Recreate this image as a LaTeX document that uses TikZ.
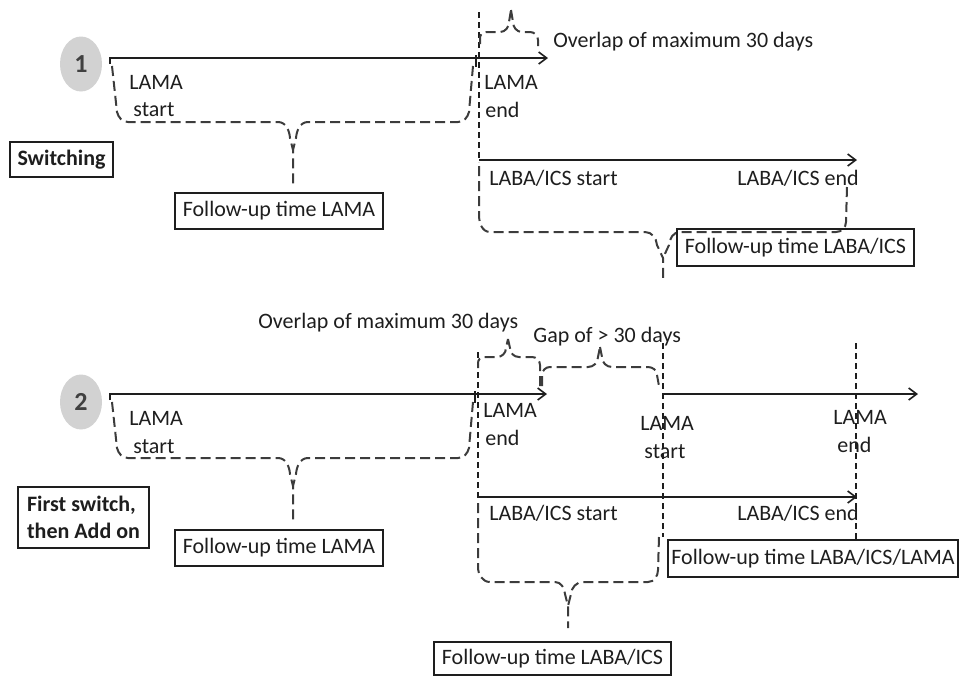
\documentclass[tikz,border=0pt]{standalone}
\usepackage{fontspec}
\setmainfont{Carlito}
\usetikzlibrary{arrows.meta}
\definecolor{ink}{HTML}{1E1E1E}
\definecolor{brc}{HTML}{3C3C3C}
\definecolor{disc}{HTML}{D2D2D2}
\tikzset{
  lbl/.style={font=\fontsize{11}{13}\selectfont, inner sep=0pt, anchor=west, text=ink},
  tag/.style={draw=ink, line width=0.9pt, font=\fontsize{11}{13}\selectfont, inner sep=0pt, text=ink},
  boldtag/.style={tag, font=\bfseries\fontsize{11}{13.5}\selectfont},
  bracepath/.style={draw=brc, line width=1pt, dash pattern=on 5pt off 2.5pt, line join=round},
  marker/.style={draw=ink, line width=0.8pt, dash pattern=on 3pt off 2pt},
  axis/.style={draw=ink, line width=0.8pt, -{Straight Barb[length=4pt,width=6pt]}},
  tick/.style={draw=ink, line width=0.8pt},
  numdisc/.style={ellipse, fill=disc, minimum width=21pt, minimum height=27.5pt, inner sep=0pt,
    font=\bfseries\fontsize{13}{15}\selectfont, text=ink!85},
}
\usetikzlibrary{shapes.geometric}
\begin{document}
\begin{tikzpicture}[x=0.5pt, y=-0.5pt]
\useasboundingbox (0,0) rectangle (960,677);

% ---------------- scenario 1: switching ----------------
\node[numdisc] (n1) at (81,64) {1};
\node[boldtag, minimum width=51.5pt, minimum height=17.5pt] (sw) at (61.5,159.5) {Switching};

% LAMA course
\coordinate (l1s) at (110,58);
\coordinate (l1e) at (548,58);
\draw[axis] (110,64) -- (l1s) -- (l1e);
\draw[tick] (476,55) -- (476,67);
\node[lbl] (l1a) at (129,82) {LAMA};
\node[lbl] (l1b) at (133,110) {start};
\node[lbl] (l1c) at (484,82) {LAMA};
\node[lbl] (l1d) at (485,110) {end};

% LAMA end marker
\draw[marker] (479,12) -- (479,162);

% overlap brace
\draw[bracepath] (480,44) -- (480,38) to[out=90,in=180] (486,32) -- (500,32) to[out=0,in=-90] (509,22) -- (511,10);
\draw[bracepath] (511,10) -- (513,22) to[out=-90,in=180] (522,32) -- (530,32) to[out=0,in=90] (538,40) -- (538,46);
\node[lbl] (ov1) at (553,42) {Overlap of maximum 30 days};

% LABA/ICS course
\coordinate (b1s) at (479,160);
\coordinate (b1e) at (857,160);
\draw[axis] (b1s) -- (b1e);
\node[lbl] (b1a) at (489,178) {LABA/ICS start};
\node[lbl] (b1b) at (737,178) {LABA/ICS end};

% follow-up brace LAMA
\draw[bracepath] (112,66) -- (117,112) to[out=-75,in=180] (128,122) -- (278,122) to[out=0,in=95] (290,138) -- (293,150) -- (293,186);
\draw[bracepath] (473,66) -- (469,112) to[out=-105,in=0] (458,122) -- (308,122) to[out=180,in=85] (296,138) -- (293,150);
\node[tag, minimum width=104pt, minimum height=18pt] (fu1) at (279,211) {Follow-up time LAMA};

% follow-up brace LABA/ICS
\draw[bracepath] (479,166) -- (479,215) to[out=-90,in=180] (490,232) -- (645,232) to[out=0,in=95] (657,245) -- (663,258) -- (663,282);
\draw[bracepath] (847,187) -- (846,222) to[out=-90,in=0] (836,232) -- (680,232) to[out=180,in=85] (669,245) -- (663,258);
\node[tag, minimum width=118.5pt, minimum height=18.5pt] (fu2) at (795.5,247.5) {Follow-up time LABA/ICS};

% ---------------- scenario 2: first switch, then add on ----------------
\node[numdisc] (n2) at (81,402) {2};
\node[boldtag, minimum width=65.5pt, minimum height=30.5pt, align=left] (fs) at (83.5,517.5) {First switch,\\then Add on};

% first LAMA course
\coordinate (l2s) at (110,394);
\coordinate (l2e) at (547,394);
\draw[axis] (110,400) -- (l2s) -- (l2e);
\draw[tick] (475,391) -- (475,403);
\node[lbl] (l2a) at (129,418) {LAMA};
\node[lbl] (l2b) at (133,447) {start};
\node[lbl] (l2c) at (483,410) {LAMA};
\node[lbl] (l2d) at (485,438) {end};

% second LAMA course
\coordinate (l3s) at (663,394);
\coordinate (l3e) at (918,394);
\draw[axis] (l3s) -- (l3e);
\node[lbl] (l3a) at (640,423) {LAMA};
\node[lbl] (l3b) at (644,452) {start};
\node[lbl] (l3c) at (833,417) {LAMA};
\node[lbl] (l3d) at (837,445) {end};

% markers
\draw[marker] (478,352) -- (478,500);
\draw[marker] (663,343) -- (663,537);
\draw[marker] (856,343) -- (856,542);

% overlap brace
\draw[bracepath] (478,368) -- (478,363) to[out=90,in=180] (484,357) -- (497,357) to[out=0,in=-90] (506,348) -- (508,339);
\draw[bracepath] (508,339) -- (510,348) to[out=-90,in=180] (519,357) -- (532,357) to[out=0,in=90] (540,365) -- (540,386);
\node[lbl] (ov2) at (258,323) {Overlap of maximum 30 days};

% gap brace
\draw[bracepath] (542,386) -- (542,375) to[out=90,in=180] (550,367) -- (588,367) to[out=0,in=-90] (598,357) -- (600,347);
\draw[bracepath] (600,347) -- (602,357) to[out=-90,in=180] (612,367) -- (648,367) to[out=0,in=90] (657,375) -- (659,386);
\node[lbl] (gap) at (533,337) {Gap of > 30 days};

% LABA/ICS course
\coordinate (b2s) at (478,497);
\coordinate (b2e) at (857,497);
\draw[axis] (b2s) -- (b2e);
\node[lbl] (b2a) at (489,513) {LABA/ICS start};
\node[lbl] (b2b) at (737,513) {LABA/ICS end};

% follow-up brace LAMA
\draw[bracepath] (112,402) -- (117,448) to[out=-75,in=180] (128,458) -- (278,458) to[out=0,in=95] (290,474) -- (293,486) -- (293,523);
\draw[bracepath] (473,402) -- (469,448) to[out=-105,in=0] (458,458) -- (308,458) to[out=180,in=85] (296,474) -- (293,486);
\node[tag, minimum width=104pt, minimum height=18pt] (fu3) at (279,548) {Follow-up time LAMA};

% follow-up brace LABA/ICS
\draw[bracepath] (478,503) -- (478,567) to[out=-90,in=180] (490,582) -- (555,582) to[out=0,in=95] (565,594) -- (568,606) -- (568,628);
\draw[bracepath] (659,537) -- (658,570) to[out=-90,in=0] (648,582) -- (583,582) to[out=180,in=85] (571,594) -- (568,606);
\node[tag, minimum width=118.5pt, minimum height=16.5pt] (fu5) at (552.5,658.5) {Follow-up time LABA/ICS};

\node[tag, minimum width=145pt, minimum height=18.5pt] (fu4) at (813,558.5) {Follow-up time LABA/ICS/LAMA};
\end{tikzpicture}
\end{document}
